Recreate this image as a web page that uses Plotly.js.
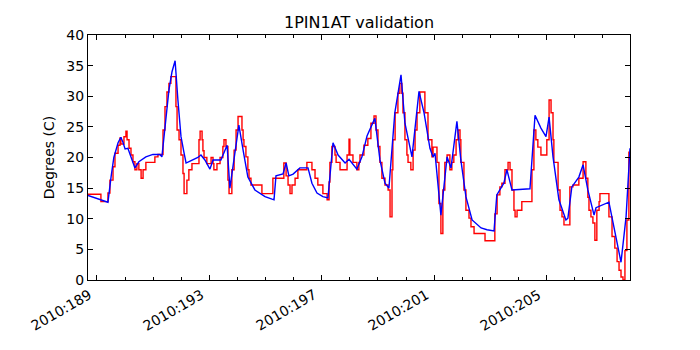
<!DOCTYPE html>
<html>
<head>
<meta charset="utf-8">
<script src="https://cdn.plot.ly/plotly-3.0.1.min.js"></script>
<style>
  body { margin: 0; background: #fff; }
  #chart { width: 700px; height: 350px; }
</style>
</head>
<body>
<div id="chart"></div>
<script>
// observed temps (day of year 2010, degrees C), drawn as steps
const obsDays = [188.68, 189.14, 189.39, 189.46, 189.57, 189.64, 189.75, 189.82, 189.85, 189.96,
  190.03, 190.07, 190.14, 190.21, 190.28, 190.35, 190.42, 190.49, 190.57, 190.64,
  190.74, 191.06, 191.17, 191.35, 191.42, 191.49, 191.56, 191.63, 191.81, 191.85,
  191.92, 191.99, 192.06, 192.10, 192.20, 192.27, 192.38, 192.63, 192.67, 192.74,
  192.77, 192.81, 192.91, 193.06, 193.13, 193.16, 193.27, 193.38, 193.48, 193.52,
  193.59, 193.66, 193.70, 193.80, 193.88, 193.95, 194.02, 194.16, 194.20, 194.23,
  194.30, 194.37, 194.41, 194.48, 194.87, 195.26, 195.65, 195.73, 195.80, 195.87,
  195.94, 196.05, 196.15, 196.47, 196.65, 196.76, 196.86, 197.04, 197.19, 197.26,
  197.29, 197.36, 197.47, 197.51, 197.65, 197.90, 197.97, 198.00, 198.11, 198.25,
  198.32, 198.36, 198.50, 198.64, 198.75, 198.86, 198.93, 199.00, 199.07, 199.14,
  199.25, 199.36, 199.43, 199.50, 199.53, 199.61, 199.71, 199.78, 199.85, 199.89,
  199.96, 200.03, 200.07, 200.17, 200.25, 200.32, 200.39, 200.49, 200.67, 200.78,
  200.92, 200.96, 201.10, 201.17, 201.24, 201.31, 201.38, 201.46, 201.56, 201.63,
  201.70, 201.78, 201.85, 201.92, 201.95, 202.06, 202.13, 202.24, 202.31, 202.42,
  202.81, 203.16, 203.24, 203.34, 203.41, 203.52, 203.63, 203.70, 203.77, 203.84,
  203.88, 203.95, 204.12, 204.48, 204.55, 204.62, 204.69, 204.80, 205.01, 205.09,
  205.16, 205.23, 205.26, 205.41, 205.48, 205.55, 205.62, 205.83, 205.94, 206.15,
  206.30, 206.40, 206.47, 206.51, 206.58, 206.65, 206.72, 206.79, 206.87, 206.90,
  207.22, 207.33, 207.43, 207.51, 207.58, 207.65, 207.72, 207.79, 207.86, 207.93];
const obsTemps = [14.0, 12.8, 14.2, 16.3, 18.5, 20.7, 22.0, 23.2, 22.2, 23.4,
  24.3, 22.9, 21.5, 20.4, 19.3, 18.0, 19.0, 18.0, 16.6, 18.0,
  19.2, 20.1, 20.5, 24.5, 28.3, 30.7, 32.1, 33.2, 28.3, 24.5,
  22.9, 20.4, 17.4, 14.1, 16.3, 18.0, 19.0, 22.9, 24.3, 22.9,
  21.1, 20.0, 19.0, 20.0, 19.0, 18.0, 19.0, 20.0, 21.8, 22.9,
  21.8, 16.3, 14.1, 18.0, 21.2, 24.5, 26.7, 24.5, 22.9, 21.8,
  20.1, 18.0, 16.6, 15.5, 14.1, 16.6, 19.1, 17.0, 15.5, 14.1,
  15.5, 16.6, 18.0, 19.2, 18.0, 16.6, 15.5, 14.1, 13.1, 16.0,
  19.2, 21.8, 20.4, 19.2, 18.0, 20.4, 23.0, 20.4, 19.2, 18.0,
  19.2, 20.4, 22.0, 23.1, 25.6, 26.8, 24.5, 21.8, 19.2, 16.6,
  15.5, 14.7, 10.3, 18.0, 22.9, 27.3, 30.5, 32.1, 30.5, 27.3,
  22.9, 20.4, 19.2, 18.0, 21.2, 24.5, 27.3, 30.7, 27.3, 22.9,
  20.1, 21.7, 19.2, 12.5, 7.6, 14.7, 19.2, 20.4, 18.0, 19.2,
  20.4, 22.9, 24.5, 22.9, 19.2, 14.7, 11.4, 10.1, 8.7, 7.6,
  6.4, 10.8, 13.9, 15.2, 15.8, 18.0, 19.2, 18.0, 14.7, 11.4,
  10.3, 11.4, 12.8, 18.0, 24.5, 22.9, 21.7, 20.4, 22.9, 29.4,
  27.3, 22.9, 19.2, 14.7, 11.4, 10.3, 9.0, 15.2, 15.5, 16.6,
  19.3, 16.6, 13.5, 11.4, 10.3, 9.3, 6.5, 11.4, 12.8, 14.1,
  10.3, 7.1, 5.2, 3.0, 1.6, 0.5, 0.0, 4.8, 9.8, 21.0];

// model temps
const modelDays = [188.68, 189.39, 189.50, 189.60, 189.75, 189.85, 189.93, 190.00, 190.10, 190.21,
  190.35, 190.49, 190.74, 190.99, 191.24, 191.31, 191.46, 191.56, 191.67, 191.78,
  191.88, 191.99, 192.10, 192.17, 192.35, 192.59, 192.70, 192.84, 193.02, 193.13,
  193.41, 193.63, 193.73, 193.91, 194.05, 194.20, 194.37, 194.62, 194.98, 195.23,
  195.30, 195.37, 195.62, 195.73, 195.83, 195.98, 196.22, 196.51, 196.65, 196.83,
  197.04, 197.22, 197.40, 197.58, 197.83, 197.97, 198.25, 198.43, 198.61, 198.86,
  198.89, 199.07, 199.25, 199.39, 199.60, 199.82, 199.96, 200.21, 200.46, 200.64,
  200.85, 200.96, 201.03, 201.24, 201.46, 201.60, 201.81, 201.95, 202.13, 202.35,
  202.67, 202.88, 203.13, 203.23, 203.48, 203.59, 203.77, 204.41, 204.59, 204.80,
  204.98, 205.09, 205.23, 205.44, 205.69, 205.76, 205.90, 206.15, 206.30, 206.47,
  206.69, 206.76, 207.22, 207.47, 207.65, 207.83, 207.97];
const modelTemps = [13.8, 12.7, 16.8, 20.0, 22.4, 23.3, 22.4, 21.4, 21.5, 20.0,
  18.3, 19.3, 20.1, 20.5, 20.5, 20.1, 26.1, 31.0, 34.0, 35.8,
  29.4, 23.4, 20.7, 19.1, 19.5, 20.0, 20.4, 19.6, 18.1, 19.6,
  19.6, 22.0, 15.0, 20.7, 25.3, 21.2, 16.8, 14.7, 13.6, 13.2,
  13.1, 17.0, 17.3, 19.1, 17.0, 17.3, 18.3, 18.3, 15.8, 14.2,
  13.6, 13.4, 22.4, 20.4, 19.1, 19.7, 18.1, 20.1, 23.5, 26.1,
  26.4, 19.6, 15.8, 15.0, 27.3, 33.5, 25.6, 20.1, 30.8, 27.3,
  21.5, 20.1, 20.7, 10.6, 20.1, 18.3, 25.9, 19.6, 13.6, 9.8,
  8.5, 8.2, 8.0, 13.9, 15.8, 18.0, 14.7, 14.9, 26.9, 24.8,
  23.4, 26.6, 20.1, 13.1, 9.8, 10.1, 15.2, 16.8, 18.8, 14.7,
  10.6, 11.8, 12.7, 7.0, 2.9, 10.3, 21.5];

// x tick positions and their labels
const tickDays = [189, 193, 197, 201, 205];
const tickLabels = tickDays.map(d => '2010:' + d);

const font = 'DejaVu Sans, sans-serif';

var traces = [
  {
    x: obsDays, y: obsTemps, type: 'scatter', mode: 'lines',
    line: {color: '#ff0000', width: 1.4, shape: 'hv'},
    hoverinfo: 'skip'
  },
  {
    x: modelDays, y: modelTemps, type: 'scatter', mode: 'lines',
    line: {color: '#0000ff', width: 1.4},
    hoverinfo: 'skip'
  }
];

// rotated date labels, right end sitting under each tick (matplotlib autofmt style)
var labels = tickDays.map((d, i) => ({
  x: d, xref: 'x', y: 0, yref: 'paper',
  xanchor: 'right', yanchor: 'top', yshift: -4,
  text: tickLabels[i], textangle: -30, showarrow: false,
  font: {family: font, size: 14, color: '#000'}
}));

var layout = {
  width: 700, height: 350,
  margin: {l: 88, r: 70, t: 35, b: 70},
  paper_bgcolor: '#fff', plot_bgcolor: '#fff',
  showlegend: false,
  font: {family: font, size: 14, color: '#000'},
  title: {text: '1PIN1AT validation', font: {family: font, size: 16, color: '#000'},
          xref: 'paper', x: 0.5, xanchor: 'center', y: 0.935, yanchor: 'middle'},
  xaxis: {
    range: [188.68, 207.97],
    tickvals: tickDays, showticklabels: false,
    ticks: 'inside', ticklen: 5, tickcolor: '#000',
    minor: {tick0: 189, dtick: 1, ticks: 'inside', ticklen: 3, tickcolor: '#000'},
    showline: true, linecolor: '#000', linewidth: 1, mirror: 'allticks',
    showgrid: false, zeroline: false
  },
  yaxis: {
    range: [0, 40], dtick: 5,
    ticks: 'inside', ticklen: 5, tickcolor: '#000',
    showline: true, linecolor: '#000', linewidth: 1, mirror: 'allticks',
    showgrid: false, zeroline: false,
    tickfont: {family: font, size: 14},
    title: {text: 'Degrees (C)', font: {family: font, size: 14}, standoff: 8}
  },
  annotations: labels
};

Plotly.newPlot('chart', traces, layout, {staticPlot: true});
</script>
</body>
</html>
